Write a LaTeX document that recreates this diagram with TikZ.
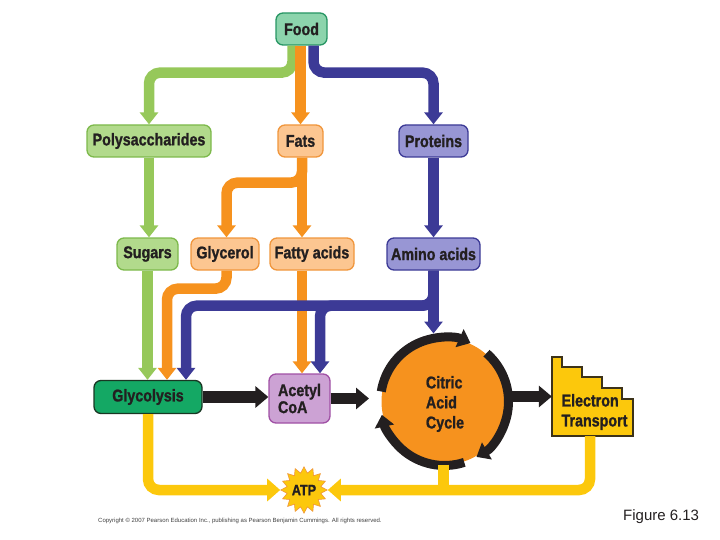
\documentclass[tikz,border=0pt]{standalone}
\usepackage{fontspec}
\setmainfont{Liberation Sans}
\newfontfamily\labfont{Liberation Sans Bold}[FakeStretch=0.84, FakeBold=1.2]
\usetikzlibrary{arrows.meta,shapes.geometric,calc}
\definecolor{txt}{RGB}{35,31,32}
\definecolor{garr}{RGB}{150,200,90}
\definecolor{gfill}{RGB}{178,218,140}
\definecolor{gline}{RGB}{125,185,75}
\definecolor{ffill}{RGB}{140,212,172}
\definecolor{fline}{RGB}{40,150,100}
\definecolor{oarr}{RGB}{246,146,30}
\definecolor{ofill}{RGB}{252,198,145}
\definecolor{oline}{RGB}{240,150,60}
\definecolor{barr}{RGB}{60,58,150}
\definecolor{bfill}{RGB}{152,150,212}
\definecolor{bline}{RGB}{60,58,150}
\definecolor{glyfill}{RGB}{20,168,100}
\definecolor{glyline}{RGB}{25,55,35}
\definecolor{acfill}{RGB}{204,162,212}
\definecolor{acline}{RGB}{160,80,165}
\definecolor{yarr}{RGB}{252,200,12}
\definecolor{etline}{RGB}{60,50,25}
\definecolor{cacfill}{RGB}{246,146,30}
\definecolor{blk}{RGB}{35,31,32}
\begin{document}
\begin{tikzpicture}[x=1pt,y=-1pt,
  box/.style={rounded corners=7pt, line width=1.3pt, minimum height=32pt, inner sep=0pt,
    font=\labfont\fontsize{17}{18}\selectfont, text=txt},
  greenbox/.style={box, fill=gfill, draw=gline},
  orangebox/.style={box, fill=ofill, draw=oline},
  bluebox/.style={box, fill=bfill, draw=bline},
  flow/.style={line width=10.5pt, rounded corners=11pt, -{Triangle[width=18pt,length=12pt]}},
  gflow/.style={flow, draw=garr},
  oflow/.style={flow, draw=oarr},
  bflow/.style={flow, draw=barr},
  yflow/.style={flow, draw=yarr, -{Triangle[width=22pt,length=13pt]}},
  kflow/.style={line width=11.5pt, draw=blk, -{Triangle[width=21pt,length=13pt]}},
  ring/.style={line width=9pt, draw=blk, -{Triangle[width=19pt,length=12pt]}},
]
\useasboundingbox (0,0) rectangle (720,540);

% nodes
\node[box, fill=ffill, draw=fline, minimum width=51pt] (food) at (301.5,29) {Food};
\node[greenbox, minimum width=124pt] (poly) at (149,141) {Polysaccharides};
\node[orangebox, minimum width=45pt] (fats) at (300.5,141) {Fats};
\node[bluebox, minimum width=69pt] (prot) at (433.5,141) {Proteins};
\node[greenbox, minimum width=61pt] (sugars) at (147.5,254) {Sugars};
\node[orangebox, minimum width=68pt] (glyc) at (225,254) {Glycerol};
\node[orangebox, minimum width=84pt] (fatty) at (312,254) {Fatty acids};
\node[bluebox, minimum width=93pt] (amino) at (433.5,254) {Amino acids};
\node[box, fill=glyfill, draw=glyline, minimum width=108pt, minimum height=33pt] (glyco) at (148,397) {Glycolysis};
\node[box, fill=acfill, draw=acline, minimum width=61pt, minimum height=49pt, align=left] (acetyl) at (299.5,398.5) {Acetyl\\[-1pt]CoA};

% citric acid cycle
\node[circle, fill=cacfill, minimum size=126pt, inner sep=0pt] (cac) at (444.5,401.5) {};
\node[align=left, font=\labfont\fontsize{17}{20}\selectfont, text=txt] (cactext) at (445,404) {Citric\\Acid\\Cycle};

% electron transport
\node[minimum width=81pt, minimum height=79pt, inner sep=0pt] (et) at (592.5,396.5) {};
\draw[fill=yarr, draw=etline, line width=1.3pt] (552,357) -- (562,357) -- (562,367) -- (582,367) -- (582,377) -- (602,377) -- (602,388) -- (622,388) -- (622,399) -- (633,399) -- (633,436) -- (552,436) -- cycle;
\node[align=left, font=\labfont\fontsize{17}{20}\selectfont, text=txt] (ettext) at (594.5,412) {Electron\\Transport};

% ATP
\node[star, star points=16, star point ratio=1.35, minimum size=44pt, inner sep=0pt, fill=yarr, draw=oline, line width=0.6pt,
  font=\labfont\fontsize{15}{16}\selectfont, text=txt] (atp) at (304,490) {ATP};

% arrows from food
\draw[gflow] ([xshift=-9pt]food.south) -- ++(0,27) -| (poly.north);
\draw[oflow] (fats.north |- food.south) -- (fats.north);
\draw[bflow] ([xshift=12pt]food.south) -- ++(0,27) -| (prot.north);

% second level
\draw[gflow] (poly.south) -- (poly.south |- sugars.north);
\draw[oflow] ([xshift=1.5pt]fats.south) -- ++(0,25) -| ([xshift=1.5pt]glyc.north);
\draw[oflow] ([xshift=1.5pt]fats.south) -- ([xshift=1.5pt]fats.south |- fatty.north);
\draw[bflow] (prot.south) -- (amino.north);

% third level
\draw[gflow] (sugars.south) -- (sugars.south |- glyco.north);
\draw[oflow] ([xshift=1.5pt]glyc.south) -- ++(0,18) -| ([xshift=19pt]glyco.north);
\draw[oflow] ([xshift=-10pt]fatty.south) -- ([xshift=-10pt]fatty.south |- acetyl.north);
\draw[bflow] (amino.south) -- ++(0,35) -| ([xshift=38pt]glyco.north);
\draw[bflow] (amino.south) -- ++(0,35) -| ([xshift=20.5pt]acetyl.north);
\coordinate (cactop) at (433.5,333.5);
\draw[bflow] (amino.south) -- (cactop);

% black arrows
\draw[kflow] (glyco.east) -- (glyco.east -| acetyl.west);
\coordinate (cacin) at (369,398.5);
\draw[kflow] (acetyl.east) -- (cacin);
\draw[kflow] (cac.east |- et.west) -- (et.west);

% ring
\draw[ring] ($(cac.center)+(-171:64)$) arc[start angle=-171, end angle=-66, radius=64];
\draw[ring] ($(cac.center)+(-49:64)$) arc[start angle=-49, end angle=60, radius=64];
\draw[ring] ($(cac.center)+(72:64)$) arc[start angle=72, end angle=168, radius=64];

% yellow ATP arrows
\draw[yflow] (glyco.south) |- (atp.west);
\draw[yflow] ([xshift=-2.5pt]et.south) |- (atp.east);
\draw[draw=yarr, line width=10.5pt] ([xshift=-1pt]cac.south) -- ([xshift=-1pt]cac.south |- atp.east);

% captions
\node[anchor=west, inner sep=0pt, font=\fontsize{6}{7}\selectfont, text=black!75] (copy) at (98,521) {Copyright \copyright\ 2007 Pearson Education Inc., publishing as Pearson Benjamin Cummings. All rights reserved.};
\node[anchor=west, inner sep=0pt, font=\fontsize{15}{17}\selectfont, text=txt] (fig) at (623,517) {Figure 6.13};
\end{tikzpicture}
\end{document}
